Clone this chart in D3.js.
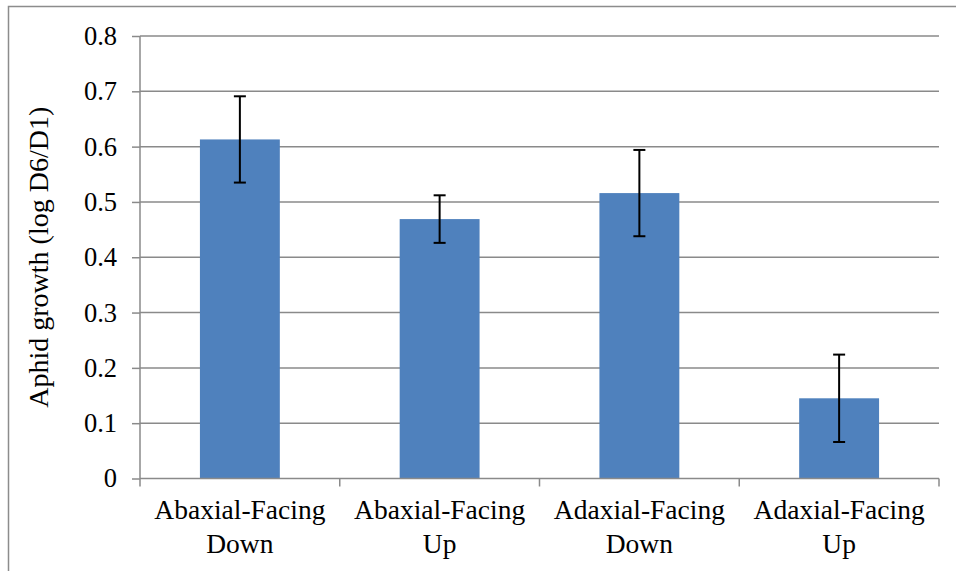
<!DOCTYPE html>
<html><head><meta charset="utf-8">
<script src="https://cdn.jsdelivr.net/npm/d3@7"></script>
<style>body{margin:0;background:#fff}svg{display:block}</style>
</head><body>
<script>
const categories = [["Abaxial-Facing","Down"],["Abaxial-Facing","Up"],["Adaxial-Facing","Down"],["Adaxial-Facing","Up"]];
const values = [0.613, 0.469, 0.516, 0.145];
const errors = [0.078, 0.043, 0.078, 0.079];
const yTicks = [0,0.1,0.2,0.3,0.4,0.5,0.6,0.7,0.8];
const yTitle = "Aphid growth (log D6/D1)";

const W=956,H=571;
const svg=d3.select("body").append("svg").attr("width",W).attr("height",H);
svg.append("rect").attr("x",8.5).attr("y",6.5).attr("width",W+20).attr("height",H+20)
  .attr("fill","#fff").attr("stroke","#8c8c8c").attr("stroke-width",1.5);

const L=140,R=939,T=36,B=478.5;
const x=d3.scaleBand().domain(d3.range(categories.length)).range([L,R]).paddingInner(0.6).paddingOuter(0.3);
const y=d3.scaleLinear().domain([0,0.8]).range([B,T]);
const font="'Liberation Serif','Times New Roman',serif";
const grey="#8a8a8a";

// gridlines
svg.append("g").selectAll("line").data(yTicks.filter(d=>d>0)).join("line")
  .attr("x1",L).attr("x2",R).attr("y1",d=>y(d)).attr("y2",d=>y(d))
  .attr("stroke",grey).attr("stroke-width",1.5);

// bars
svg.append("g").selectAll("rect").data(values).join("rect")
  .attr("x",(d,i)=>x(i)).attr("width",x.bandwidth())
  .attr("y",d=>y(d)).attr("height",d=>B-y(d)).attr("fill","#4f81bd");

// y axis
const ya=svg.append("g").attr("transform",`translate(${L},0)`)
  .call(d3.axisLeft(y).tickValues(yTicks).tickSize(8).tickPadding(15).tickFormat(d=>d===0?"0":d3.format(".1f")(d)));
ya.selectAll("path,line").attr("stroke",grey).attr("stroke-width",1.5);
ya.selectAll("text").attr("font-family",font).attr("font-size",26.5).attr("fill","#000");
ya.select(".domain").attr("d",`M0,${T}V${B}`);

// x axis
const bw=(R-L)/categories.length;
const xa=svg.append("g");
xa.append("line").attr("x1",L).attr("x2",R).attr("y1",B).attr("y2",B).attr("stroke",grey).attr("stroke-width",1.5);
xa.selectAll("line.t").data(d3.range(categories.length+1)).join("line").attr("class","t")
  .attr("x1",i=>L+i*bw).attr("x2",i=>L+i*bw).attr("y1",B).attr("y2",B+8)
  .attr("stroke",grey).attr("stroke-width",1.5);
const lab=xa.selectAll("text").data(categories).join("text")
  .attr("font-family",font).attr("font-size",27.5).attr("text-anchor","middle").attr("fill","#000");
lab.each(function(d,i){
  const t=d3.select(this);
  d.forEach((s,j)=>t.append("tspan").attr("x",x(i)+x.bandwidth()/2).attr("y",519+j*34).text(s));
});

// error bars
const eb=svg.append("g").attr("stroke","#000").attr("stroke-width",2);
values.forEach((v,i)=>{
  const cx=x(i)+x.bandwidth()/2;
  eb.append("line").attr("x1",cx).attr("x2",cx).attr("y1",y(v+errors[i])).attr("y2",y(v-errors[i]));
  [v+errors[i],v-errors[i]].forEach(e=>eb.append("line").attr("x1",cx-6).attr("x2",cx+6).attr("y1",y(e)).attr("y2",y(e)));
});

// y title
svg.append("text").attr("transform",`translate(48,${(T+B)/2}) rotate(-90)`)
  .attr("text-anchor","middle").attr("font-family",font).attr("font-size",28).text(yTitle);
</script>
</body></html>
